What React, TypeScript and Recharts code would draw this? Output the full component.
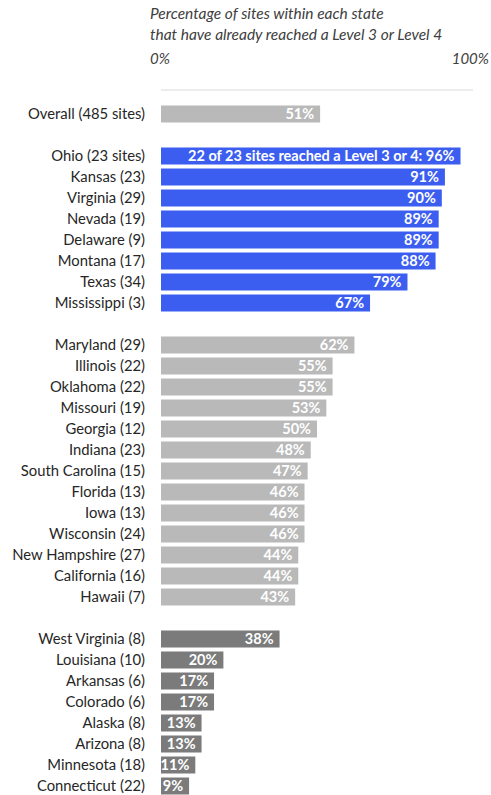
import { BarChart, Bar, XAxis, YAxis, Cell, LabelList } from "recharts";

const overallNames = ["Overall (485 sites)"];
const overallValues = [51];

const topNames = [
  "Ohio (23 sites)",
  "Kansas (23)",
  "Virginia (29)",
  "Nevada (19)",
  "Delaware (9)",
  "Montana (17)",
  "Texas (34)",
  "Mississippi (3)",
];
const topValues = [96, 91, 90, 89, 89, 88, 79, 67];
const ohioNote = "22 of 23 sites reached a Level 3 or 4: 96%";

const midNames = [
  "Maryland (29)",
  "Illinois (22)",
  "Oklahoma (22)",
  "Missouri (19)",
  "Georgia (12)",
  "Indiana (23)",
  "South Carolina (15)",
  "Florida (13)",
  "Iowa (13)",
  "Wisconsin (24)",
  "New Hampshire (27)",
  "California (16)",
  "Hawaii (7)",
];
const midValues = [62, 55, 55, 53, 50, 48, 47, 46, 46, 46, 44, 44, 43];

const lowNames = [
  "West Virginia (8)",
  "Louisiana (10)",
  "Arkansas (6)",
  "Colorado (6)",
  "Alaska (8)",
  "Arizona (8)",
  "Minnesota (18)",
  "Connecticut (22)",
];
const lowValues = [38, 20, 17, 17, 13, 13, 11, 9];

const axisTicks = [0, 100];

const BLUE = "#3b5ef1";
const LIGHT = "#b9b9b9";
const DARK = "#7b7b7b";

type Row = { name: string; value: number | null; label: string; color: string };

const makeRows = (names: string[], values: number[], color: string): Row[] =>
  names.map((n, i) => ({
    name: n,
    value: values[i],
    label: `${values[i]}%`,
    color,
  }));

const spacer = (key: string): Row => ({ name: key, value: null, label: "", color: "none" });

const topRows = makeRows(topNames, topValues, BLUE);
topRows[0].label = ohioNote;

const data: Row[] = [
  ...makeRows(overallNames, overallValues, LIGHT),
  spacer(" "),
  ...topRows,
  spacer("  "),
  ...makeRows(midNames, midValues, LIGHT),
  spacer("   "),
  ...makeRows(lowNames, lowValues, DARK),
];

const font = "Lato, 'Open Sans', sans-serif";

const PctTick = (props: any) => {
  const { x, y, payload } = props;
  const first = payload.value === 0;
  return (
    <text
      x={first ? x - 11 : x + 16}
      y={y - 24}
      textAnchor={first ? "start" : "end"}
      fontFamily={font}
      fontStyle="italic"
      fontSize={15}
      fill="#404040"
    >
      {payload.value}%
    </text>
  );
};

export default function App() {
  return (
    <div
      style={{
        position: "absolute",
        left: 0,
        top: 0,
        width: 491,
        height: 795,
        overflow: "hidden",
        background: "#fff",
      }}
    >
      <div
        style={{
          position: "absolute",
          left: 150,
          top: 3,
          fontFamily: font,
          fontStyle: "italic",
          fontSize: 15.5,
          lineHeight: "21px",
          color: "#404040",
          whiteSpace: "nowrap",
        }}
      >
        Percentage of sites within each state
        <br />
        that have already reached a Level 3 or Level 4
      </div>
      <BarChart
        width={491}
        height={800}
        data={data}
        layout="vertical"
        margin={{ top: 60, right: 18, left: 0, bottom: 3.5 }}
        barSize={17}
      >
        <XAxis
          type="number"
          orientation="top"
          domain={[0, 100]}
          ticks={axisTicks}
          height={30}
          tickLine={false}
          tickSize={0}
          axisLine={{ stroke: "#d9d9d9" }}
          tick={<PctTick />}
        />
        <YAxis
          type="category"
          dataKey="name"
          width={161}
          padding={{ top: 13.5, bottom: 0 }}
          axisLine={false}
          tickLine={false}
          tickSize={0}
          tickMargin={16}
          interval={0}
          tick={{ fontFamily: font, fontSize: 14.8, fill: "#262626" }}
        />
        <Bar dataKey="value" isAnimationActive={false}>
          {data.map((d, i) => (
            <Cell key={i} fill={d.color} />
          ))}
          <LabelList
            dataKey="label"
            position="insideRight"
            offset={6}
            fill="#ffffff"
            fontFamily={font}
            fontWeight="bold"
            fontSize={14.5}
          />
        </Bar>
      </BarChart>
    </div>
  );
}
